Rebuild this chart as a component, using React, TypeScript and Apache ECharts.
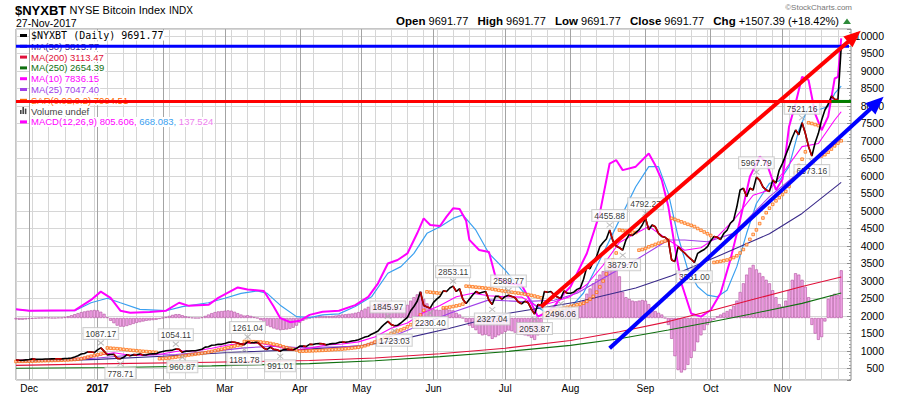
import React, { useEffect, useRef } from "react";
import * as echarts from "echarts";

// ---------- calendar (NYSE trading days) ----------
const START = "2016-11-25";
const END = "2017-11-30"; // last 3 days are empty padding on the right
const HOLIDAYS = ["2016-12-26", "2017-01-02", "2017-01-16", "2017-02-20", "2017-04-14", "2017-05-29", "2017-07-04", "2017-09-04"];
const MONTH_NAMES = ["Jan", "Feb", "Mar", "Apr", "May", "Jun", "Jul", "Aug", "Sep", "Oct", "Nov", "Dec"];

function tradingDays(): string[] {
  const out: string[] = [];
  const d = new Date(START + "T00:00:00Z");
  const end = new Date(END + "T00:00:00Z");
  while (d <= end) {
    const wd = d.getUTCDay();
    const s = d.toISOString().slice(0, 10);
    if (wd !== 0 && wd !== 6 && HOLIDAYS.indexOf(s) < 0) out.push(s);
    d.setUTCDate(d.getUTCDate() + 1);
  }
  return out;
}
const DATES = tradingDays();

// ---------- daily values (index = trading day from 2016-11-25) ----------
const PRICE: number[] = [
  740, 735, 735, 745,
  755, 775, 760, 765, 765, 770, 770, 775, 780, 778, 775, 785, 790, 800, 830, 865, 915, 930, 975, 970, 955,
  1030, 1087.17, 995, 890, 900, 905, 790, 778.71, 820, 895, 865, 895, 890, 915, 885, 890, 912, 918, 920, 965,
  985, 1005, 1015, 1025, 1054.11, 1050, 960.87, 995, 995, 1005, 1008, 1030, 1050, 1110, 1120, 1165, 1170, 1190, 1190,
  1215, 1245, 1255, 1250, 1230, 1195, 1181.78, 1261.04, 1235, 1240, 1250, 1170, 1080, 1045, 1110, 1045, 1035, 991.01, 1040, 1045, 1040, 1035, 1075,
  1140, 1140, 1130, 1190, 1185, 1205, 1210, 1205, 1175, 1195, 1210, 1215, 1245, 1255, 1250, 1265, 1285, 1300, 1320,
  1360, 1400, 1420, 1480, 1520, 1570, 1680, 1770, 1845.97, 1760, 1723.03, 1735, 1800, 1880, 1960, 2150, 2270, 2420, 2690, 2300, 2260, 2230.4,
  2390, 2480, 2560, 2720, 2700, 2800, 2853.11, 2700, 2780, 2480, 2360, 2480, 2600, 2700, 2650, 2680, 2700, 2450, 2327.04, 2560, 2560, 2480,
  2560, 2589.77, 2560, 2520, 2400, 2350, 2420, 2380, 2200, 2053.87, 2330, 2300, 2700, 2680, 2700, 2600, 2540, 2496.06, 2720, 2650,
  2650, 2680, 2760, 2800, 3050, 3400, 3350, 3550, 3700, 3980, 4100, 4200, 4455.88, 4150, 4000, 3950, 3879.7, 4170, 4330, 4300, 4380, 4460, 4600,
  4792.27, 4460, 4600, 4550, 4360, 4270, 4250, 4171, 3600, 3560, 3980, 3880, 3800, 3700, 3620, 3531.0, 3790, 3850, 3900, 3980,
  4150, 4270, 4250, 4180, 4360, 4450, 4650, 4740, 5120, 5600, 5650, 5410, 5650, 5600, 5967.79, 5880, 5690, 5600, 5560, 5880, 5800, 6170,
  6360, 6600, 6838, 7100, 7314, 7180, 7521.16, 7219, 6838, 6573.16, 6950, 7219, 7600, 7886, 8050, 8286, 8190, 8184.38, 9691.77,
];

const SAR: number[] = [
  700, 702, 704, 706, 708, 710, 713, 716, 719, 722, 725, 728, 731, 734, 737, 740, 744, 750, 757, 766, 780, 800, 825, 850, 872, 890, 910, 935,
  1087, 1080, 1073, 1066, 1056, 1045, 1035, 1025, 1016, 1007, 999, 991, 983, 976, 969, 962,
  779, 783, 790, 800, 812, 825, 840, 855, 870, 884, 897, 910, 922, 934, 950, 968, 988, 1008, 1030, 1050, 1070, 1095, 1120, 1140, 1160, 1175,
  1272, 1270, 1267, 1264, 1260, 1256, 1245, 1232, 1215, 1195, 1175, 1150, 1120, 1095, 1070, 1050, 1030,
  991, 994, 997, 1000, 1004, 1008, 1013, 1018, 1024, 1030, 1036, 1042, 1048, 1055, 1063, 1072, 1082, 1094, 1108, 1125, 1150, 1180, 1215, 1255,
  1290, 1330, 1380, 1440, 1500, 1540, 1570, 1600, 1640, 1690, 1750, 1820, 1920, 2030,
  2160,
  2690, 2680, 2670, 2660, 2650,
  2230, 2240, 2255, 2270, 2290, 2310, 2340,
  2853, 2845, 2835, 2825, 2815, 2805, 2795, 2785, 2770, 2750, 2735, 2720, 2705, 2690, 2678, 2666, 2654, 2640, 2625, 2610, 2590, 2570, 2545, 2520,
  2060, 2090, 2120, 2150, 2175, 2200, 2225, 2250, 2275, 2300, 2320, 2340, 2365, 2420, 2480, 2560, 2680, 2830, 3000, 3200, 3400, 3600, 3800,
  4455, 4440, 4425, 4410, 4395, 4385,
  3880, 3900, 3930, 3975, 4010, 4045, 4080, 4110, 4140, 4165,
  4792, 4760, 4725, 4690, 4655, 4620, 4590, 4555, 4500, 4450, 4400, 4350, 4300,
  3531, 3545, 3560, 3580, 3600, 3630, 3670, 3720, 3800, 3900, 4040, 4190, 4330, 4460, 4640, 4800, 4950, 5080, 5190, 5290, 5380, 5470, 5560, 5700, 5880, 6090, 6300, 6480, 6690,
  7521, 7500, 7470, 7440,
  6573, 6610, 6680, 6770, 6860, 6940, 7004.51,
];

const MACD_HIST: number[] = [
  -4, -5, -5, -4, -3, -2, -1, 0, 0, 1, 1, 0, 0, 1, 1,
  3, 5, 8, 11, 14, 17, 19, 21, 22, 23, 22, 18,
  12, 2, -8, -15, -22, -25, -25, -23, -20, -17, -14, -12, -10, -8, -7, -6, -5, -3,
  0, 3, 6, 9, 11, 11, 8, 5, 3, 1, 0, 0, 2, 6, 10, 14, 17, 19, 20,
  21, 22, 21, 18, 14, 10, 7, 8, 6, 3, 0, -6, -14, -22, -26, -30, -33, -35, -34, -33, -31, -28, -22,
  -14, -8, -4, 0, 2, 4, 5, 6, 5, 5, 6, 7, 9, 10, 11, 12, 13, 15, 17,
  22, 27, 32, 36, 39, 42, 45, 46, 45, 40, 32, 28, 27, 30, 38, 50, 60, 68, 76, 55, 42, 30,
  25, 24, 23, 28, 26, 24, 22, 15, 10, 0, -12, -22, -28, -35, -45, -50, -48, -52, -60, -55, -50, -45,
  -40, -36, -38, -42, -45, -48, -50, -52, -57, -63, -50, -40, 5, 20, 25, 28, 24, 22, 26, 30,
  28, 25, 28, 35, 50, 70, 85, 100, 112, 125, 135, 145, 155, 158, 150, 120, 75, 60, 55, 50, 48, 50, 52,
  50, 40, 30, 20, 15, 10, 0, -20, -60, -110, -150, -157, -150, -135, -115, -95, -70, -50, -35, -20,
  -10, -5, 5, 10, 15, 20, 25, 35, 50, 75, 100, 125, 145, 153, 140, 130, 120, 110, 100, 80, 60, 40,
  33, 50, 80, 110, 129, 125, 110, 90, 60, -20, -45, -63, -55, -10, 55, 65, 70, 66, 137.524,
];

// ---------- sampled lines: [trading-day index, value] ----------
const MACD_LINE: [number, number][] = [
  [0, 25], [4, 21], [18, 22], [23, 52], [26, 76], [29, 58], [32, 21], [35, 15], [41, 17], [46, 21], [50, 44], [53, 35], [59, 38], [62, 58],
  [68, 88], [71, 82], [76, 78], [79, 33], [81, 0], [84, -12], [87, -8], [90, 9], [94, 18], [99, 21], [104, 37], [108, 61], [111, 100],
  [114, 157], [117, 167], [120, 186], [123, 244], [125, 287], [127, 268], [130, 265], [132, 292], [134, 316], [136, 314], [138, 280],
  [139, 225], [142, 196], [145, 190], [147, 119], [151, 100], [155, 95], [157, 61], [160, 4], [162, 13], [165, 33], [168, 71], [170, 90],
  [175, 186], [179, 302], [182, 445], [184, 455], [186, 426], [190, 436], [194, 474], [196, 440], [198, 397], [200, 321], [202, 205],
  [204, 100], [207, 13], [210, 4], [213, 23], [216, 71], [219, 167], [222, 282], [225, 407], [228, 465], [230, 450], [233, 369], [235, 400],
  [237, 551], [239, 618], [241, 695], [243, 685], [245, 589], [247, 541], [249, 580], [251, 690], [252, 695], [253, 805.606],
];
const MACD_SIGNAL: [number, number][] = [
  [0, 25], [4, 21], [18, 21], [23, 44], [28, 57], [32, 44], [38, 25], [46, 21], [51, 33], [59, 44], [64, 57], [69, 71], [74, 78], [77, 71],
  [81, 37], [86, 4], [90, 1], [94, 9], [99, 12], [104, 33], [109, 61], [114, 129], [118, 148], [122, 186], [126, 244], [130, 263], [134, 287],
  [137, 297], [141, 253], [145, 186], [150, 138], [155, 81], [159, 37], [163, 13], [167, 20], [170, 30], [174, 72], [179, 167], [185, 282],
  [190, 378], [194, 436], [197, 436], [200, 359], [203, 234], [206, 138], [209, 90], [212, 66], [215, 61], [218, 80], [221, 148], [224, 244],
  [227, 330], [231, 388], [234, 395], [237, 436], [240, 541], [243, 609], [246, 600], [249, 609], [251, 647], [253, 668.083],
];
const MA10: [number, number][] = [
  [0, 735], [10, 760], [20, 800], [25, 880], [30, 950], [35, 880], [40, 880], [45, 920], [50, 1000], [55, 1000], [60, 1080], [65, 1170],
  [70, 1220], [75, 1220], [80, 1120], [85, 1020], [90, 1080], [95, 1170], [100, 1200], [105, 1260], [110, 1400], [115, 1650], [120, 1800],
  [125, 2100], [130, 2300], [135, 2550], [140, 2650], [145, 2580], [150, 2550], [155, 2540], [160, 2270], [165, 2400], [170, 2560],
  [175, 2900], [180, 3450], [185, 4100], [190, 4360], [194, 4560], [200, 4170], [205, 3880], [210, 3950], [215, 4260], [220, 4740],
  [226, 5450], [231, 5600], [236, 6200], [241, 6840], [246, 6930], [251, 7600], [253, 7836.15],
];
const MA25: [number, number][] = [
  [0, 720], [15, 740], [25, 800], [35, 880], [49, 900], [60, 990], [70, 1090], [80, 1140], [86, 1100], [100, 1120], [106, 1150], [117, 1480],
  [133, 2080], [145, 2460], [155, 2410], [165, 2450], [172, 2650], [180, 3080], [190, 3600], [200, 4170], [205, 4170], [212, 4120],
  [220, 4360], [231, 5410], [241, 6170], [253, 7047.4],
];
const MA50: [number, number][] = [
  [0, 690], [25, 760], [45, 850], [64, 950], [87, 1040], [106, 1150], [117, 1310], [133, 1650], [151, 2080], [172, 2400], [190, 2800],
  [201, 3150], [215, 3700], [231, 4350], [241, 4930], [253, 5815.77],
];
const MA200: [number, number][] = [
  [0, 590], [30, 640], [60, 680], [90, 730], [110, 800], [130, 920], [150, 1080], [170, 1300], [185, 1550], [200, 1840], [213, 2150],
  [225, 2450], [241, 2840], [253, 3113.47],
];
const MA250: [number, number][] = [
  [0, 505], [30, 530], [60, 575], [90, 640], [110, 720], [130, 840], [150, 980], [170, 1160], [185, 1350], [200, 1600], [213, 1830],
  [225, 2050], [241, 2360], [253, 2654.39],
];

const PEAK_DAYS = [26, 49, 71, 114, 134, 151, 182, 193, 227, 241];
const TROUGH_DAYS = [32, 51, 70, 81, 116, 127, 146, 159, 167, 186, 208, 244];

// hand-drawn annotations: [trading-day index, price]
const RED_LEVEL = 8130;
const BLUE_LEVEL = 9710;
const GREEN_SEGMENT: [number, number][] = [[250, 8130], [256, 8130]];
const RED_ARROW: [number, number][] = [[161, 2265], [259, 10150]];
const BLUE_ARROW: [number, number][] = [[182, 1077], [266, 8266]];

// axis ranges
const PRICE_MIN = 171;
const PRICE_MAX = 10200;
const MACD_MIN = -178.6;
const MACD_MAX = 832.6;

const FONT = "Liberation Sans";
const COLORS = {
  price: "#000000",
  down: "#c00000",
  ma50: "#3a2a8a",
  ma200: "#e0103a",
  ma250: "#107010",
  ma10: "#ff00ff",
  ma25: "#a040e8",
  sar: "#ff6600",
  macd: "#ff00ff",
  signal: "#3aa0f0",
  hist: "#f0a4e6",
  histBorder: "#b0509e",
};

const last = (a: number[] | [number, number][]) => {
  const v = a[a.length - 1] as any;
  return Array.isArray(v) ? v[1] : v;
};
const pair = (a: [number, number][]) => a.map(([i, v]) => [DATES[i], v]);
const isMonthStart = (i: number) => i > 0 && i < DATES.length && DATES[i].slice(5, 7) !== DATES[i - 1].slice(5, 7);
const isWeekLine = (i: number) =>
  i >= 0 && i < DATES.length && new Date(DATES[i] + "T00:00:00Z").getUTCDay() === 5 && !isMonthStart(i);

function downSegments() {
  const out: any[] = [];
  let prevDown = false;
  for (let i = 1; i < PRICE.length; i++) {
    if (PRICE[i] < PRICE[i - 1]) {
      if (!prevDown) {
        out.push([DATES[i - 1], "-"]);
        out.push([DATES[i - 1], PRICE[i - 1]]);
      }
      out.push([DATES[i], PRICE[i]]);
      prevDown = true;
    } else prevDown = false;
  }
  return out;
}

function labelSeries(days: number[], top: boolean) {
  return {
    type: "scatter",
    z: 12,
    silent: true,
    data: days.map((i) => [DATES[i], PRICE[i]]),
    symbol: "path://M0,0L8,8M8,0L0,8",
    symbolSize: [6, 5],
    symbolOffset: [0, top ? -5 : 5],
    itemStyle: { color: "rgba(0,0,0,0)", borderColor: "#aaaaaa", borderWidth: 1 },
    label: {
      show: true,
      position: top ? "top" : "bottom",
      distance: 1,
      formatter: (p: any) => Number(p.value[1]).toFixed(2),
      fontFamily: FONT,
      fontSize: 8.5,
      color: "#000",
      backgroundColor: "#ffffff",
      borderColor: "#c4c4c4",
      borderWidth: 1,
      padding: [1, 2, 0, 2],
      lineHeight: 10,
    },
  };
}

function lineSeries(name: string, data: any[], color: string, width: number, z: number, yAxisIndex = 0) {
  return {
    name,
    type: "line",
    data,
    yAxisIndex,
    z,
    symbol: "none",
    showSymbol: false,
    silent: true,
    lineStyle: { color, width },
    itemStyle: { color },
  };
}

function buildOption(): any {
  return {
    animation: false,
    backgroundColor: "#ffffff",
    textStyle: { fontFamily: FONT },
    grid: { left: 16, right: 49, top: 29, bottom: 16, show: true, borderColor: "#8c8c8c", borderWidth: 1, backgroundColor: "#fff", outerBoundsMode: "none" },
    xAxis: [
      {
        type: "category",
        data: DATES,
        boundaryGap: false,
        axisLine: { show: false },
        axisTick: { show: false },
        axisLabel: {
          interval: (i: number) => isMonthStart(i),
          formatter: (v: string) => {
            const m = parseInt(v.slice(5, 7), 10);
            return m === 1 ? "{y|" + v.slice(0, 4) + "}" : MONTH_NAMES[m - 1];
          },
          fontFamily: FONT,
          fontSize: 10,
          color: "#000",
          margin: 3,
          rich: { y: { fontFamily: FONT, fontSize: 10, fontWeight: "bold", color: "#000" } },
        },
        splitLine: { show: true, interval: (i: number) => isMonthStart(i), lineStyle: { color: "#a4a4a4", width: 1 } },
      },
      {
        type: "category",
        data: DATES,
        boundaryGap: false,
        gridIndex: 0,
        axisLine: { show: false },
        axisTick: { show: false },
        axisLabel: { show: false },
        splitLine: { show: true, interval: (i: number) => isWeekLine(i), lineStyle: { color: "#d6d6d6", width: 1 } },
      },
    ],
    yAxis: [
      {
        type: "value",
        position: "right",
        min: PRICE_MIN,
        max: PRICE_MAX,
        splitNumber: 20,
        axisLine: { show: false },
        axisTick: { show: true, inside: true, length: 4, lineStyle: { color: "#8c8c8c" } },
        minorTick: { show: true, splitNumber: 5, length: 2, lineStyle: { color: "#a0a0a0" } },
        axisLabel: {
          showMinLabel: false,
          showMaxLabel: false,
          align: "right",
          margin: 33,
          fontFamily: FONT,
          fontSize: 10.5,
          color: "#000",
          formatter: (v: number) => String(Math.round(v)),
        },
        splitLine: { show: true, lineStyle: { color: "#d6d6d6", width: 1 } },
      },
      {
        type: "value",
        min: MACD_MIN,
        max: MACD_MAX,
        show: false,
        splitLine: { show: false },
      },
    ],
    series: [
      {
        name: "MACD hist",
        type: "bar",
        yAxisIndex: 1,
        data: MACD_HIST,
        barWidth: 3,
        z: 1,
        silent: true,
        itemStyle: { color: COLORS.hist, borderColor: COLORS.histBorder, borderWidth: 0.6 },
      },
      lineSeries("MACD signal", pair(MACD_SIGNAL), COLORS.signal, 1.2, 2, 1),
      lineSeries("MACD(12,26,9)", pair(MACD_LINE), COLORS.macd, 2, 2, 1),
      lineSeries("MA(250)", pair(MA250), COLORS.ma250, 1.1, 3),
      lineSeries("MA(200)", pair(MA200), COLORS.ma200, 1.1, 3),
      lineSeries("MA(50)", pair(MA50), COLORS.ma50, 1.1, 3),
      lineSeries("MA(25)", pair(MA25), COLORS.ma25, 1.1, 3),
      lineSeries("MA(10)", pair(MA10), COLORS.ma10, 1.1, 3),
      {
        name: "SAR(0.02,0.2)",
        type: "scatter",
        data: SAR,
        z: 4,
        silent: true,
        symbol: "rect",
        symbolSize: 2.6,
        itemStyle: { color: "#ffd8b0", borderColor: COLORS.sar, borderWidth: 0.9 },
      },
      lineSeries("$NYXBT", PRICE, COLORS.price, 1.6, 5),
      { ...lineSeries("down", downSegments(), COLORS.down, 1.6, 6), connectNulls: false },
      labelSeries(PEAK_DAYS, true),
      labelSeries(TROUGH_DAYS, false),
    ],
  };
}

function arrowGraphics(p0: number[], p1: number[], color: string, width: number, headLen: number, headW: number) {
  const dx = p1[0] - p0[0];
  const dy = p1[1] - p0[1];
  const len = Math.sqrt(dx * dx + dy * dy);
  const ux = dx / len;
  const uy = dy / len;
  const bx = p1[0] - ux * headLen;
  const by = p1[1] - uy * headLen;
  const nx = -uy * (headW / 2);
  const ny = ux * (headW / 2);
  return [
    { type: "line", z: 100, silent: true, shape: { x1: p0[0], y1: p0[1], x2: bx + ux, y2: by + uy }, style: { stroke: color, lineWidth: width } },
    {
      type: "polygon",
      z: 100,
      silent: true,
      shape: { points: [[p1[0], p1[1]], [bx + nx, by + ny], [bx - nx, by - ny]] },
      style: { fill: color },
    },
  ];
}

function buildGraphics(toPx: (d: number, v: number) => number[]): any[] {
  const g: any[] = [];
  const lastDay = DATES.length - 1;
  const r0 = toPx(0, RED_LEVEL);
  const r1 = toPx(lastDay, RED_LEVEL);
  g.push({ type: "line", z: 100, silent: true, shape: { x1: r0[0], y1: r0[1], x2: r1[0], y2: r1[1] }, style: { stroke: "#ff0000", lineWidth: 3 } });
  const b0 = toPx(0, BLUE_LEVEL);
  const b1 = toPx(lastDay, BLUE_LEVEL);
  g.push({ type: "line", z: 100, silent: true, shape: { x1: b0[0], y1: b0[1], x2: b1[0] - 2, y2: b1[1] }, style: { stroke: "#0000ff", lineWidth: 3 } });
  const gA = toPx(GREEN_SEGMENT[0][0], GREEN_SEGMENT[0][1]);
  const gB = toPx(GREEN_SEGMENT[1][0], GREEN_SEGMENT[1][1]);
  g.push({ type: "line", z: 101, silent: true, shape: { x1: gA[0], y1: gA[1], x2: gB[0], y2: gB[1] }, style: { stroke: "#008000", lineWidth: 3 } });
  g.push(...arrowGraphics(toPx(RED_ARROW[0][0], RED_ARROW[0][1]), toPx(RED_ARROW[1][0], RED_ARROW[1][1]), "#ff0000", 4, 17, 14));
  g.push(...arrowGraphics(toPx(BLUE_ARROW[0][0], BLUE_ARROW[0][1]), toPx(BLUE_ARROW[1][0], BLUE_ARROW[1][1]), "#0000ff", 4, 18, 15));
  return g;
}

function headerGraphics(): any[] {
  const close = PRICE[PRICE.length - 1];
  const prev = PRICE[PRICE.length - 2];
  const chg = close - prev;
  const pct = (chg / prev) * 100;
  const c = close.toFixed(2);
  const g: any[] = [];
  g.push({
    type: "text", x: 15, y: 10, z: 50, silent: true,
    style: {
      text: "{a|$NYXBT} {b|NYSE Bitcoin Index} {c|INDX}",
      verticalAlign: "middle",
      rich: {
        a: { fontFamily: FONT, fontSize: 13, fontWeight: "bold", fill: "#000" },
        b: { fontFamily: FONT, fontSize: 11, fill: "#000" },
        c: { fontFamily: FONT, fontSize: 10, fill: "#000" },
      },
    },
  });
  g.push({ type: "text", x: 16, y: 22.5, z: 50, silent: true, style: { text: "27-Nov-2017", font: `10.5px "${FONT}"`, fill: "#000", verticalAlign: "middle" } });
  g.push({
    type: "text", x: 839, y: 21, z: 50, silent: true,
    style: {
      text: `{b|Open} ${c}   {b|High} ${c}   {b|Low} ${c}   {b|Close} ${c}   {b|Chg} +${chg.toFixed(2)} (+${pct.toFixed(2)}%)`,
      align: "right",
      verticalAlign: "middle",
      font: `11px "${FONT}"`,
      fill: "#000",
      rich: { b: { fontFamily: FONT, fontSize: 11.5, fontWeight: "bold", fill: "#000" } },
    },
  });
  g.push({ type: "polygon", z: 50, silent: true, shape: { points: [[843, 24], [851, 24], [847, 18.5]] }, style: { fill: "#2e8b3a" } });
  g.push({ type: "text", x: 852, y: 7, z: 50, silent: true, style: { text: "©StockCharts.com", font: `8px "${FONT}"`, fill: "#777", align: "right", verticalAlign: "middle" } });

  const rows: { color: string; text: any; font?: string; icon?: string; rich?: any }[] = [
    { color: COLORS.price, text: `$NYXBT (Daily) ${close.toFixed(2)}`, font: `10px "DejaVu Sans Mono"` },
    { color: COLORS.ma50, text: `MA(50) ${last(MA50).toFixed(2)}` },
    { color: COLORS.ma200, text: `MA(200) ${last(MA200).toFixed(2)}` },
    { color: COLORS.ma250, text: `MA(250) ${last(MA250).toFixed(2)}` },
    { color: COLORS.ma10, text: `MA(10) ${last(MA10).toFixed(2)}` },
    { color: COLORS.ma25, text: `MA(25) ${last(MA25).toFixed(2)}` },
    { color: COLORS.sar, text: `SAR(0.02,0.2) ${last(SAR).toFixed(2)}` },
    { color: "#444", text: "Volume undef", icon: "bars" },
    {
      color: COLORS.macd,
      text: `{m|MACD(12,26,9) ${last(MACD_LINE).toFixed(3)},} {s|${last(MACD_SIGNAL).toFixed(3)},} {h|${last(MACD_HIST).toFixed(3)}}`,
      rich: {
        m: { fontFamily: FONT, fontSize: 9.5, fill: COLORS.macd },
        s: { fontFamily: FONT, fontSize: 9.5, fill: COLORS.signal },
        h: { fontFamily: FONT, fontSize: 9.5, fill: "#ee82ee" },
      },
    },
  ];
  rows.forEach((r, k) => {
    const y = 35.5 + k * 10.8;
    if (r.icon === "bars") {
      g.push({ type: "rect", z: 50, silent: true, shape: { x: 20, y: y - 1, width: 1.6, height: 4 }, style: { fill: r.color } });
      g.push({ type: "rect", z: 50, silent: true, shape: { x: 22.4, y: y - 4, width: 1.6, height: 7 }, style: { fill: r.color } });
      g.push({ type: "rect", z: 50, silent: true, shape: { x: 24.8, y: y - 2.5, width: 1.6, height: 5.5 }, style: { fill: r.color } });
    } else {
      g.push({ type: "rect", z: 50, silent: true, shape: { x: 20, y: y - 1.5, width: 7, height: 3 }, style: { fill: r.color } });
    }
    g.push({
      type: "text", x: 30, y, z: 50, silent: true,
      style: {
        text: r.text,
        font: r.font || `9.5px "${FONT}"`,
        fill: r.color,
        verticalAlign: "middle",
        backgroundColor: "#ffffff",
        padding: [0, 1, 0, 1],
        rich: r.rich,
      },
    });
  });
  return g;
}

export default function App() {
  const ref = useRef<HTMLDivElement>(null);
  useEffect(() => {
    document.body.style.margin = "0";
    const chart = echarts.init(ref.current!, null, { renderer: "svg" });
    chart.setOption(buildOption());
    const toPx = (d: number, v: number) => chart.convertToPixel({ seriesIndex: 9 }, [d, v]) as number[];
    chart.setOption({ graphic: [...headerGraphics(), ...buildGraphics(toPx)] });
    return () => chart.dispose();
  }, []);
  return <div ref={ref} style={{ position: "absolute", left: 0, top: 0, width: 900, height: 396, background: "#fff" }} />;
}
